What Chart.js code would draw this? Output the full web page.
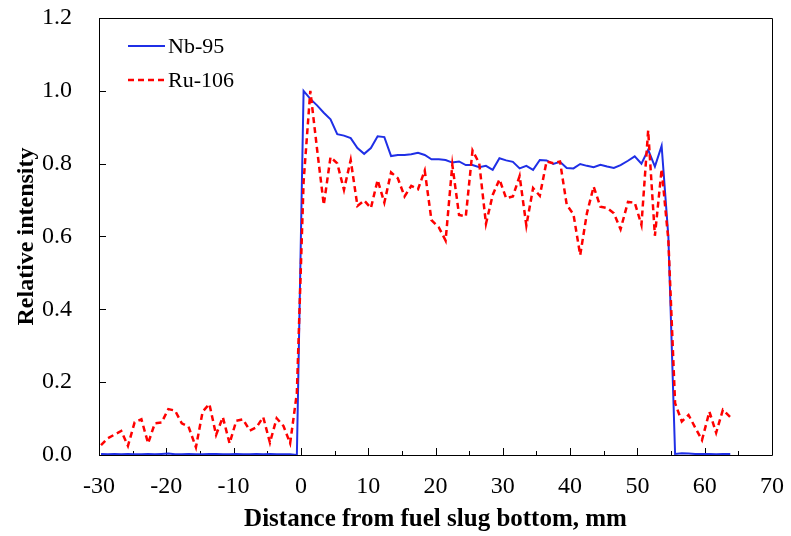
<!DOCTYPE html>
<html>
<head>
<meta charset="utf-8">
<script src="https://cdn.jsdelivr.net/npm/chart.js@4/dist/chart.umd.min.js"></script>
<style>
    html, body { margin: 0; padding: 0; background: #fff; }
</style>
</head>
<body>
<canvas id="graficoIntensidade" width="791" height="536"></canvas>
<script>
// posição ao longo do elemento (mm)
const distancia = [
    -29.7, -28.7, -27.7, -26.7, -25.7, -24.7, -23.7, -22.7, -21.7, -20.7,
    -19.7, -18.7, -17.7, -16.7, -15.6, -14.6, -13.6, -12.6, -11.6, -10.6,
    -9.6, -8.6, -7.6, -6.6, -5.6, -4.6, -3.6, -2.6, -1.6, -0.6,
    0.4, 1.4, 2.4, 3.4, 4.4, 5.4, 6.4, 7.4, 8.4, 9.4,
    10.4, 11.4, 12.4, 13.4, 14.4, 15.4, 16.4, 17.4, 18.4, 19.4,
    20.5, 21.5, 22.5, 23.5, 24.5, 25.5, 26.5, 27.5, 28.5, 29.5,
    30.5, 31.5, 32.5, 33.5, 34.5, 35.5, 36.5, 37.5, 38.5, 39.5,
    40.5, 41.5, 42.5, 43.5, 44.5, 45.5, 46.5, 47.5, 48.6, 49.6,
    50.6, 51.6, 52.6, 53.6, 54.6, 55.6, 56.6, 57.6, 58.6, 59.6,
    60.7, 61.7, 62.7, 63.8
];

const nb95 = [
    0.003, 0.002, 0.003, 0.002, 0.003, 0.002, 0.002, 0.003, 0.002, 0.003,
    0.004, 0.002, 0.002, 0.003, 0.002, 0.002, 0.003, 0.003, 0.002, 0.002,
    0.003, 0.002, 0.002, 0.003, 0.002, 0.003, 0.002, 0.002, 0.002, 0.0,
    1.0, 0.978, 0.96, 0.94, 0.922, 0.881, 0.877, 0.87, 0.843, 0.827,
    0.843, 0.875, 0.873, 0.821, 0.824, 0.824, 0.826, 0.83, 0.824, 0.812,
    0.812, 0.81, 0.803, 0.806, 0.796, 0.796, 0.79, 0.794, 0.783, 0.815,
    0.809, 0.805, 0.787, 0.794, 0.783, 0.81, 0.809, 0.799, 0.805, 0.788,
    0.787, 0.799, 0.794, 0.79, 0.797, 0.792, 0.788, 0.796, 0.808, 0.82,
    0.8, 0.838, 0.792, 0.849, 0.6, 0.003, 0.005, 0.004, 0.003, 0.003,
    0.003, 0.002, 0.003, 0.003
];

const ru106 = [
    0.027, 0.046, 0.056, 0.066, 0.025, 0.09, 0.098, 0.032, 0.087, 0.089,
    0.126, 0.122, 0.087, 0.078, 0.021, 0.119, 0.14, 0.055, 0.104, 0.032,
    0.094, 0.098, 0.067, 0.076, 0.104, 0.034, 0.101, 0.08, 0.032, 0.17,
    0.75, 1.0, 0.84, 0.687, 0.818, 0.801, 0.728, 0.81, 0.684, 0.699,
    0.678, 0.755, 0.693, 0.776, 0.76, 0.71, 0.739, 0.73, 0.781, 0.645,
    0.625, 0.589, 0.797, 0.659, 0.655, 0.836, 0.801, 0.635, 0.714, 0.757,
    0.705, 0.71, 0.766, 0.63, 0.733, 0.712, 0.806, 0.801, 0.806, 0.687,
    0.661, 0.549, 0.664, 0.737, 0.682, 0.678, 0.664, 0.62, 0.695, 0.693,
    0.632, 0.891, 0.602, 0.785, 0.59, 0.142, 0.092, 0.11, 0.075, 0.041,
    0.119, 0.061, 0.124, 0.104
];

const nomes = ["Nb-95", "Ru-106"];

const fonte = "'Times New Roman', 'Liberation Serif', serif";

// moldura e marcas de escala para dentro
const moldura = {
    id: 'moldura',
    beforeDatasetsDraw(chart) {
        const ctx = chart.ctx;
        const a = chart.chartArea;
        const sx = chart.scales.x;
        const sy = chart.scales.y;
        ctx.save();
        ctx.strokeStyle = '#000';
        ctx.lineWidth = 1;
        ctx.beginPath();
        ctx.rect(Math.round(a.left) + 0.5, Math.round(a.top) + 0.5,
                 Math.round(a.right - a.left), Math.round(a.bottom - a.top));
        for (let v = -30; v <= 70; v += 5) {
            let px = Math.round(sx.getPixelForValue(v)) + 0.5;
            let len = (v % 10 === 0) ? 7 : 4;
            ctx.moveTo(px, a.bottom);
            ctx.lineTo(px, a.bottom - len);
        }
        for (let v = 0; v <= 1.2001; v += 0.2) {
            let py = Math.round(sy.getPixelForValue(v)) + 0.5;
            ctx.moveTo(a.left, py);
            ctx.lineTo(a.left + 7, py);
        }
        ctx.stroke();
        ctx.restore();
    },
    afterDatasetsDraw(chart) {
        // legenda dentro do gráfico
        const ctx = chart.ctx;
        ctx.save();
        ctx.font = '22px ' + fonte;
        ctx.textBaseline = 'middle';
        chart.data.datasets.forEach((ds, i) => {
            let y = 46 + i * 34;
            ctx.strokeStyle = ds.borderColor;
            ctx.lineWidth = ds.borderWidth;
            ctx.setLineDash(ds.borderDash || []);
            ctx.beginPath();
            ctx.moveTo(128, y);
            ctx.lineTo(165, y);
            ctx.stroke();
            ctx.fillStyle = '#000';
            ctx.fillText(ds.label, 168, y + 1);
        });
        ctx.restore();
    }
};

function semSobra(scale) {
    scale.paddingTop = 0;
    scale.paddingBottom = 0;
    scale.paddingLeft = 0;
    scale.paddingRight = 0;
}

const ctx = document.getElementById('graficoIntensidade').getContext('2d');
const grafico = new Chart(ctx, {
    type: 'line',
    data: {
        datasets: [
            {
                label: nomes[0],
                data: distancia.map((d, i) => ({ x: d, y: nb95[i] })),
                borderColor: '#1f2fe6',
                borderWidth: 2,
                pointRadius: 0,
                tension: 0,
                order: 1
            },
            {
                label: nomes[1],
                data: distancia.map((d, i) => ({ x: d, y: ru106[i] })),
                borderColor: '#ff0000',
                borderWidth: 2.5,
                borderDash: [6, 4],
                pointRadius: 0,
                tension: 0,
                order: 0
            }
        ]
    },
    options: {
        responsive: false,
        animation: false,
        layout: { padding: { left: 0, right: 19, top: 18, bottom: 0 } },
        plugins: {
            legend: { display: false },
            tooltip: { enabled: false }
        },
        scales: {
            x: {
                type: 'linear',
                min: -30,
                max: 70,
                grid: { display: false, drawTicks: false },
                border: { display: false },
                ticks: {
                    stepSize: 10,
                    padding: 17,
                    color: '#000',
                    maxRotation: 0,
                    font: { family: fonte, size: 24 }
                },
                title: {
                    display: true,
                    text: 'Distance from fuel slug bottom, mm',
                    color: '#000',
                    font: { family: fonte, size: 25, weight: 'bold' },
                    padding: { top: 0, bottom: 1 }
                },
                afterFit(scale) { scale.height = 81; semSobra(scale); }
            },
            y: {
                min: 0,
                max: 1.2,
                grid: { display: false, drawTicks: false },
                border: { display: false },
                ticks: {
                    stepSize: 0.2,
                    padding: 27,
                    color: '#000',
                    font: { family: fonte, size: 24 },
                    callback: v => v.toFixed(1)
                },
                title: {
                    display: true,
                    text: 'Relative intensity',
                    color: '#000',
                    font: { family: fonte, size: 24, weight: 'bold' },
                    padding: { top: 12, bottom: 0 }
                },
                afterFit(scale) { scale.width = 99; semSobra(scale); }
            }
        }
    },
    plugins: [moldura]
});
</script>
</body>
</html>
